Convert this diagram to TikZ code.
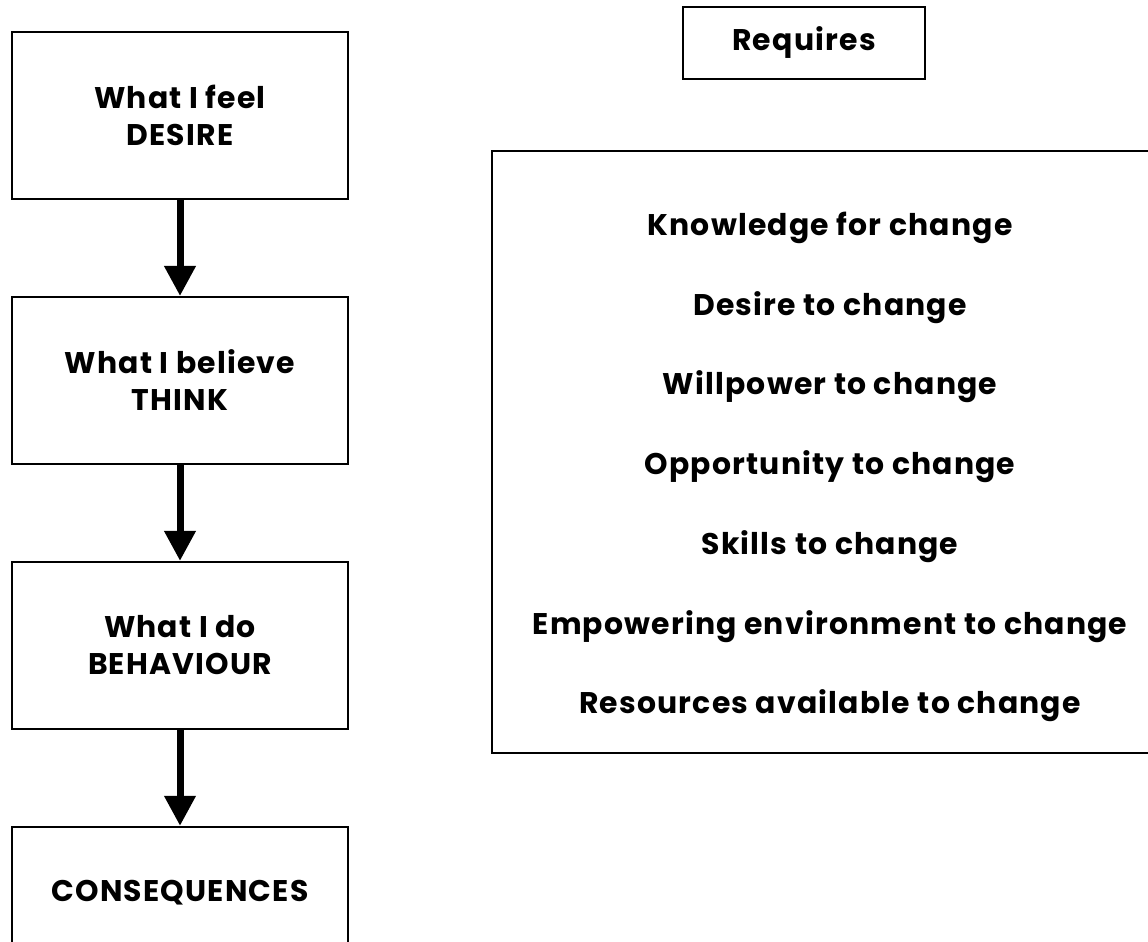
\documentclass[tikz,border=0pt]{standalone}
\usepackage{fontspec}
\setmainfont{Poppins}[LetterSpace=4]
\usetikzlibrary{positioning, arrows.meta}

\begin{document}
\begin{tikzpicture}[
    stagebox/.style={rectangle, draw=black, line width=1.1pt, minimum width=6.72cm, minimum height=3.34cm, align=center, font=\fontsize{17}{21}\selectfont\bfseries},
    headbox/.style={rectangle, draw=black, line width=1.1pt, minimum width=4.84cm, minimum height=1.44cm, font=\fontsize{17}{21}\selectfont\bfseries},
    listbox/.style={rectangle, draw=black, line width=1.1pt, minimum width=13.52cm, minimum height=12.04cm},
    listtext/.style={align=center, font=\fontsize{17}{45.4}\selectfont\bfseries},
    flowarrow/.style={line width=0.14cm, -{Triangle[width=0.6cm, length=0.6cm]}},
]
\useasboundingbox (0,0) rectangle (22.96,-18.82);
\clip (0,0) rectangle (22.96,-18.82);
% left column
\node[stagebox](feel) at (3.6,-2.31){What I feel\\DESIRE};
\node[stagebox](believe)[below = 1.92cm of feel]{What I believe\\THINK};
\node[stagebox](act)[below = 1.92cm of believe]{What I do\\BEHAVIOUR};
\node[stagebox, text depth=0.78cm](conseq)[below = 1.92cm of act]{CONSEQUENCES};
\draw[flowarrow] (feel.south) -- (believe.north);
\draw[flowarrow] (believe.south) -- (act.north);
\draw[flowarrow] (act.south) -- (conseq.north);
% right side
\node[headbox](requires) at (16.08,-0.86){Requires};
\node[listbox](needs) at (16.6,-9.04){};
\node[listtext](needlist) at ([yshift=-0.3cm]needs.center){Knowledge for change\\Desire to change\\Willpower to change\\Opportunity to change\\Skills to change\\Empowering environment to change\\Resources available to change};
\end{tikzpicture}
\end{document}
